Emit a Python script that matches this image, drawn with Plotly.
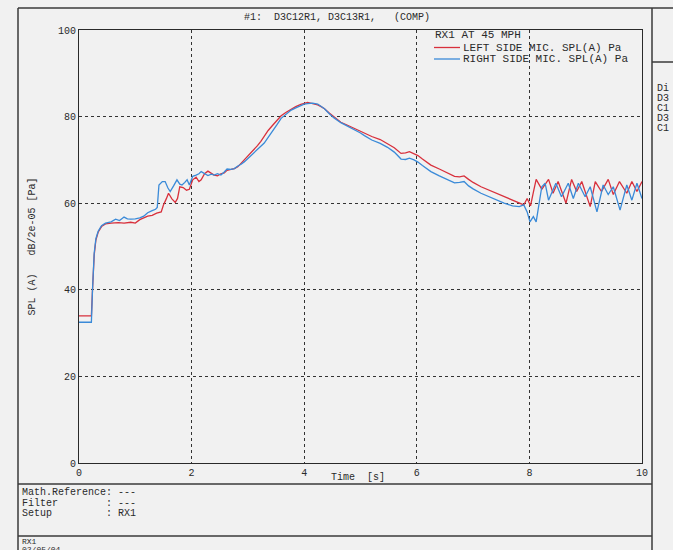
import plotly.graph_objects as go

# ---- measured signals -------------------------------------------------------
series_left_name = "LEFT SIDE MIC. SPL(A) Pa"
series_right_name = "RIGHT SIDE MIC. SPL(A) Pa"

time_left = [
    0.00, 0.22, 0.24, 0.27, 0.30, 0.34, 0.40, 0.47, 0.57, 0.70, 0.80, 0.92, 1.00,
    1.08, 1.15, 1.22, 1.30, 1.38, 1.46, 1.50, 1.55, 1.59, 1.65, 1.71, 1.75, 1.79,
    1.85, 1.91, 1.96, 2.02, 2.08, 2.13, 2.17, 2.23, 2.29, 2.35, 2.40, 2.46, 2.52,
    2.58, 2.63, 2.70, 2.76, 2.82, 2.88, 2.94, 3.00, 3.08, 3.17, 3.23, 3.29, 3.36,
    3.44, 3.52, 3.59, 3.68, 3.77, 3.85, 3.94, 4.00, 4.06, 4.15, 4.24, 4.30, 4.36,
    4.45, 4.53, 4.65, 4.77, 4.89, 5.00, 5.07, 5.20, 5.35, 5.48, 5.60, 5.72, 5.80,
    5.87, 5.95, 6.02, 6.10, 6.25, 6.40, 6.55, 6.67, 6.76, 6.84, 6.92, 7.00, 7.14,
    7.30, 7.45, 7.55, 7.70, 7.85, 7.90, 7.96, 8.02, 8.07, 8.12, 8.22, 8.34, 8.42,
    8.51, 8.65, 8.75, 8.84, 8.93, 9.08, 9.17, 9.28, 9.40, 9.49, 9.60, 9.73, 9.82,
    9.91, 10.00,
]
spl_left = [
    34.0, 34.0, 40.0, 48.0, 51.5, 53.3, 54.6, 55.2, 55.4, 55.5, 55.4, 55.6, 55.4,
    56.2, 56.6, 57.0, 57.2, 57.7, 58.0, 59.6, 61.0, 62.3, 61.0, 60.2, 61.1, 63.8,
    63.6, 63.0, 63.2, 65.4, 66.0, 65.0, 65.4, 66.8, 67.4, 66.8, 66.5, 66.3, 66.8,
    67.0, 67.6, 67.8, 68.0, 68.4, 69.2, 70.0, 70.8, 72.0, 73.3, 74.3, 75.5, 76.8,
    78.0, 79.2, 80.2, 81.0, 81.8, 82.3, 82.8, 83.1, 83.3, 83.0, 82.7, 82.3, 81.8,
    80.8, 79.9, 78.7, 78.0, 77.3, 76.5, 76.1, 75.4, 74.7, 73.8, 72.8, 71.5, 71.6,
    71.9, 71.5, 71.0, 70.2, 68.8, 67.9, 66.9, 66.2, 66.1, 66.3, 65.5, 64.8, 63.8,
    62.9, 62.0, 61.5, 60.6, 59.8, 59.6, 61.1, 59.4, 62.5, 65.5, 63.2, 65.5, 62.3,
    65.0, 60.0, 65.5, 62.7, 65.0, 59.2, 65.0, 62.7, 65.5, 62.0, 65.0, 62.3, 65.0,
    62.7, 65.0,
]

time_right = [
    0.00, 0.22, 0.24, 0.27, 0.30, 0.34, 0.40, 0.47, 0.57, 0.65, 0.72, 0.80, 0.86,
    0.92, 1.00, 1.08, 1.15, 1.22, 1.30, 1.36, 1.39, 1.42, 1.48, 1.53, 1.58, 1.62,
    1.68, 1.74, 1.79, 1.83, 1.88, 1.92, 1.96, 2.02, 2.08, 2.13, 2.17, 2.23, 2.29,
    2.35, 2.40, 2.46, 2.52, 2.58, 2.63, 2.70, 2.76, 2.82, 2.88, 2.94, 3.00, 3.08,
    3.17, 3.23, 3.29, 3.36, 3.44, 3.52, 3.59, 3.68, 3.77, 3.85, 3.94, 4.00, 4.06,
    4.15, 4.24, 4.30, 4.36, 4.45, 4.53, 4.65, 4.77, 4.89, 5.00, 5.07, 5.20, 5.35,
    5.48, 5.60, 5.72, 5.80, 5.87, 5.95, 6.02, 6.10, 6.25, 6.40, 6.55, 6.67, 6.76,
    6.84, 6.92, 7.00, 7.14, 7.30, 7.45, 7.55, 7.70, 7.82, 7.90, 7.96, 8.01, 8.07,
    8.12, 8.17, 8.22, 8.28, 8.34, 8.47, 8.57, 8.69, 8.78, 8.87, 8.99, 9.08, 9.20,
    9.31, 9.40, 9.49, 9.61, 9.73, 9.82, 9.91, 10.00,
]
spl_right = [
    32.5, 32.5, 40.0, 48.5, 51.8, 53.5, 54.8, 55.4, 55.7, 56.3, 56.0, 56.8, 56.4,
    56.3, 56.4, 56.6, 57.0, 57.8, 58.3, 58.6, 59.0, 64.2, 65.0, 65.0, 63.5, 62.7,
    64.0, 65.4, 64.4, 64.2, 64.8, 65.4, 64.2, 66.2, 66.5, 66.8, 67.3, 66.8, 66.4,
    66.7, 66.5, 66.8, 66.5, 67.2, 67.9, 67.8, 68.0, 68.6, 69.0, 69.6, 70.3, 71.3,
    72.3, 73.0, 73.9, 75.2, 76.6, 78.2, 79.6, 80.6, 81.5, 82.0, 82.5, 82.9, 83.0,
    83.1, 82.9, 82.4, 81.8, 80.6, 79.7, 78.6, 77.8, 77.1, 76.2, 75.6, 74.6, 73.8,
    72.9, 71.8, 70.2, 70.1, 70.4, 70.0, 69.5, 68.7, 67.3, 66.3, 65.4, 64.7, 64.8,
    65.0, 64.0, 63.3, 62.3, 61.4, 60.6, 60.0, 59.4, 59.2, 59.6, 58.0, 55.7, 56.9,
    55.7, 60.0, 63.8, 64.6, 60.7, 64.6, 61.5, 64.6, 61.1, 64.6, 61.5, 63.8, 58.0,
    64.2, 62.0, 63.8, 58.4, 64.2, 60.7, 64.6, 61.1,
]

x_ticks = [0, 2, 4, 6, 8, 10]
y_ticks = [0, 20, 40, 60, 80, 100]

plot_title = "#1:  D3C12R1, D3C13R1,   (COMP)"
x_title = "Time  [s]"
y_title = "SPL (A)   dB/2e-05 [Pa]"
legend_header = "RX1 AT 45 MPH"
info_lines = ["Math.Reference: ---", "Filter        : ---", "Setup         : RX1"]
footer_lines = ["RX1", "02/05/04"]
side_lines = ["Di", "D3", "C1", "D3", "C1"]

# ---- page geometry (pixels) -------------------------------------------------
W, H = 673, 550
L, R, T, B = 79, 642, 30, 463

def px(x):
    return (x - L) / (R - L)

def py(y):
    return (B - y) / (B - T)

MONO = "Liberation Mono, DejaVu Sans Mono, monospace"
INK = "#2a2a2a"
RED = "#d8303c"
BLUE = "#3a8ad8"
PAPER = "#f1f1f1"

fig = go.Figure()
fig.add_trace(go.Scatter(x=time_left, y=spl_left, mode="lines", name=series_left_name,
                         line=dict(color=RED, width=1.3), showlegend=False))
fig.add_trace(go.Scatter(x=time_right, y=spl_right, mode="lines", name=series_right_name,
                         line=dict(color=BLUE, width=1.3), showlegend=False))

axis_common = dict(
    showline=True, mirror=True, linecolor=INK, linewidth=1.2,
    showgrid=True, gridcolor="#333333", gridwidth=1, griddash="dot",
    zeroline=False, ticks="", tickfont=dict(family=MONO, size=10, color=INK),
    fixedrange=True,
)
fig.update_xaxes(range=[0, 10], tickvals=x_ticks, ticktext=[str(v) for v in x_ticks],
                 **axis_common)
fig.update_yaxes(range=[0, 100], tickvals=y_ticks, ticktext=[str(v) for v in y_ticks],
                 title=dict(text=y_title, font=dict(family=MONO, size=10, color=INK), standoff=20),
                 **axis_common)

shapes = []
annotations = []

# x-axis caption, tucked right under the tick labels
annotations.append(dict(x=px(358), y=py(477), xref="paper", yref="paper", text=x_title,
                        showarrow=False, xanchor="center", yanchor="middle",
                        font=dict(family=MONO, size=10, color=INK)))

# legend drawn inside the plot area, over the grid
annotations.append(dict(x=px(433), y=py(35.5), xref="paper", yref="paper", text=legend_header,
                        showarrow=False, xanchor="left", yanchor="middle",
                        font=dict(family=MONO, size=11, color=INK)))
for i, (name, col) in enumerate([(series_left_name, RED), (series_right_name, BLUE)]):
    yy = 47.5 + 11.5 * i
    shapes.append(dict(type="line", xref="paper", yref="paper", x0=px(434), x1=px(460),
                       y0=py(yy), y1=py(yy), line=dict(color=col, width=1.3)))
    annotations.append(dict(x=px(461), y=py(yy), xref="paper", yref="paper", text=name,
                            showarrow=False, xanchor="left", yanchor="middle",
                            font=dict(family=MONO, size=11, color=INK)))

# report frame
frame = [
    (18, 8, 673, 8), (18, 8, 18, 550), (652, 8, 652, 550),
    (18, 484, 652, 484), (18, 536, 652, 536), (652, 62, 673, 62),
]
for x0, y0, x1, y1 in frame:
    shapes.append(dict(type="line", xref="paper", yref="paper", x0=px(x0), x1=px(x1),
                       y0=py(y0), y1=py(y1), line=dict(color="#3a3a3a", width=1.5)))

for i, s in enumerate(info_lines):
    annotations.append(dict(x=px(20), y=py(493 + 10 * i), xref="paper", yref="paper", text=s,
                            showarrow=False, xanchor="left", yanchor="middle",
                            font=dict(family=MONO, size=10, color=INK)))
for i, s in enumerate(footer_lines):
    annotations.append(dict(x=px(20), y=py(541 + 8 * i), xref="paper", yref="paper", text=s,
                            showarrow=False, xanchor="left", yanchor="middle",
                            font=dict(family=MONO, size=8, color=INK)))
for i, s in enumerate(side_lines):
    annotations.append(dict(x=px(655), y=py(88 + 10 * i), xref="paper", yref="paper", text=s,
                            showarrow=False, xanchor="left", yanchor="middle",
                            font=dict(family=MONO, size=10, color=INK)))

fig.update_layout(
    width=W, height=H,
    margin=dict(l=L, r=W - R, t=T, b=H - B, pad=0),
    paper_bgcolor=PAPER, plot_bgcolor=PAPER,
    title=dict(text=plot_title, x=337 / W, xref="container", xanchor="center",
               y=1 - 16 / H, yref="container", yanchor="middle",
               font=dict(family=MONO, size=10, color=INK)),
    shapes=shapes, annotations=annotations,
    showlegend=False,
)

fig.write_html("out.html")
